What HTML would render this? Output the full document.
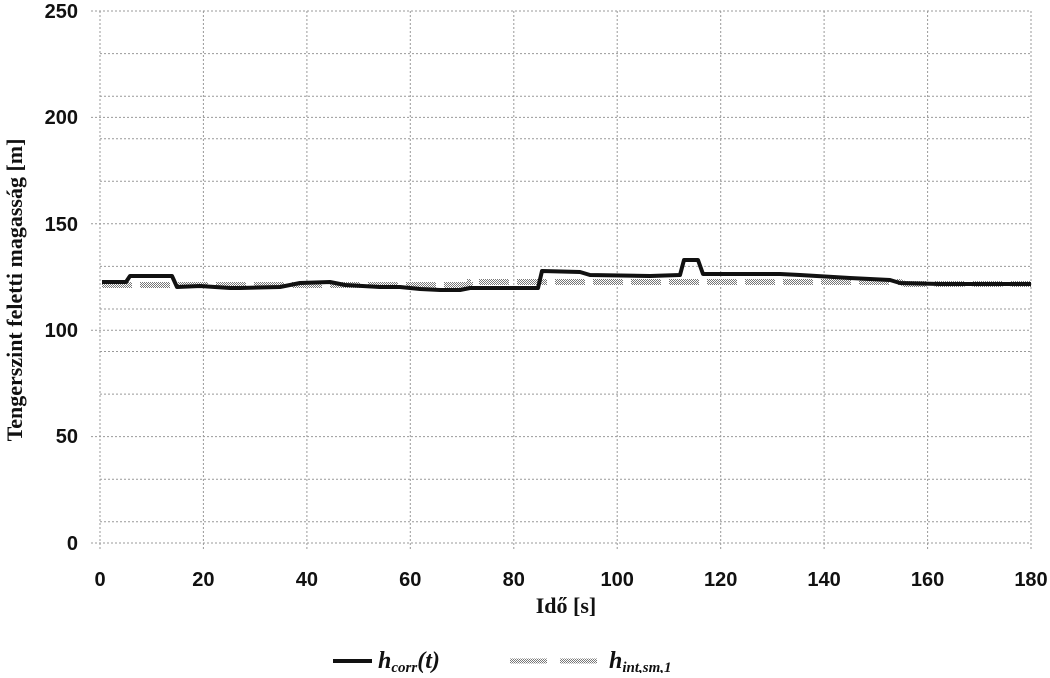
<!DOCTYPE html>
<html><head><meta charset="utf-8"><style>
body{margin:0;background:#fff;width:1050px;height:673px;overflow:hidden}
svg text{font-family:"Liberation Sans","DejaVu Sans",sans-serif;font-weight:bold;fill:#111}
</style></head><body>
<svg width="1050" height="673" viewBox="0 0 1050 673" xmlns="http://www.w3.org/2000/svg">
<defs>
<pattern id="chk" width="2" height="2" patternUnits="userSpaceOnUse"><rect width="2" height="2" fill="#fff"/><rect width="1" height="1" fill="#777"/><rect x="1" y="1" width="1" height="1" fill="#777"/></pattern>
</defs>
<g stroke="#999" stroke-width="1" stroke-dasharray="2,2" fill="none">
<line x1="91" y1="11" x2="1031" y2="11"/><line x1="91" y1="117.4" x2="1031" y2="117.4"/><line x1="91" y1="223.8" x2="1031" y2="223.8"/><line x1="91" y1="330.2" x2="1031" y2="330.2"/><line x1="91" y1="436.6" x2="1031" y2="436.6"/><line x1="91" y1="543" x2="1031" y2="543"/>
<line x1="100" y1="53.6" x2="1031" y2="53.6"/><line x1="100" y1="96.2" x2="1031" y2="96.2"/><line x1="100" y1="138.7" x2="1031" y2="138.7"/><line x1="100" y1="181.3" x2="1031" y2="181.3"/><line x1="100" y1="266.4" x2="1031" y2="266.4"/><line x1="100" y1="309" x2="1031" y2="309"/><line x1="100" y1="351.5" x2="1031" y2="351.5"/><line x1="100" y1="394.1" x2="1031" y2="394.1"/><line x1="100" y1="479.2" x2="1031" y2="479.2"/><line x1="100" y1="521.7" x2="1031" y2="521.7"/>
<line x1="100" y1="11" x2="100" y2="550"/><line x1="203.4" y1="11" x2="203.4" y2="550"/><line x1="306.9" y1="11" x2="306.9" y2="550"/><line x1="410.3" y1="11" x2="410.3" y2="550"/><line x1="513.8" y1="11" x2="513.8" y2="550"/><line x1="617.2" y1="11" x2="617.2" y2="550"/><line x1="720.7" y1="11" x2="720.7" y2="550"/><line x1="824.1" y1="11" x2="824.1" y2="550"/><line x1="927.6" y1="11" x2="927.6" y2="550"/><line x1="1031" y1="11" x2="1031" y2="550"/>
</g>
<g font-size="20" text-anchor="end">
<text x="78" y="18">250</text><text x="78" y="124">200</text><text x="78" y="231">150</text><text x="78" y="337">100</text><text x="78" y="443">50</text><text x="78" y="550">0</text>
</g>
<g font-size="20" text-anchor="middle">
<text x="100" y="586">0</text><text x="203.4" y="586">20</text><text x="306.9" y="586">40</text><text x="410.3" y="586">60</text><text x="513.8" y="586">80</text><text x="617.2" y="586">100</text><text x="720.7" y="586">120</text><text x="824.1" y="586">140</text><text x="927.6" y="586">160</text><text x="1031" y="586">180</text>
</g>
<text x="566" y="613" font-size="22" text-anchor="middle" style="font-family:'Liberation Serif',serif">Idő [s]</text>
<text transform="translate(22,290) rotate(-90)" font-size="22" text-anchor="middle" style="font-family:'Liberation Serif',serif">Tengerszint feletti magasság [m]</text>
<polyline fill="none" stroke="url(#chk)" stroke-width="6" stroke-dasharray="30,8" points="102,285 470,285 470,282 900,282 905,284 1031,284"/>
<polyline fill="none" stroke="#111" stroke-width="4" stroke-linejoin="round" points="102,282 126,282 130,276 172,276 177,287 200,286 230,288 240,288 280,287 300,283 330,282 345,285 380,287 400,287 420,289 440,290 460,290 470,288 538,288 542,271 580,272 590,275 650,276 680,275 684,260 698,260 703,274 780,274 800,275 850,278 890,280 900,283 940,284 1031,284"/>
<line x1="333" y1="661" x2="372" y2="661" stroke="#111" stroke-width="4"/>
<text x="378" y="668" font-size="24" font-style="italic" style="font-family:'Liberation Serif',serif">h<tspan font-size="15" dy="4">corr</tspan><tspan dy="-4">(t)</tspan></text>
<line x1="510" y1="661" x2="547" y2="661" stroke="url(#chk)" stroke-width="5"/>
<line x1="560" y1="661" x2="597" y2="661" stroke="url(#chk)" stroke-width="5"/>
<text x="609" y="668" font-size="24" font-style="italic" style="font-family:'Liberation Serif',serif">h<tspan font-size="15" dy="4">int,sm,1</tspan></text>
</svg>
</body></html>
